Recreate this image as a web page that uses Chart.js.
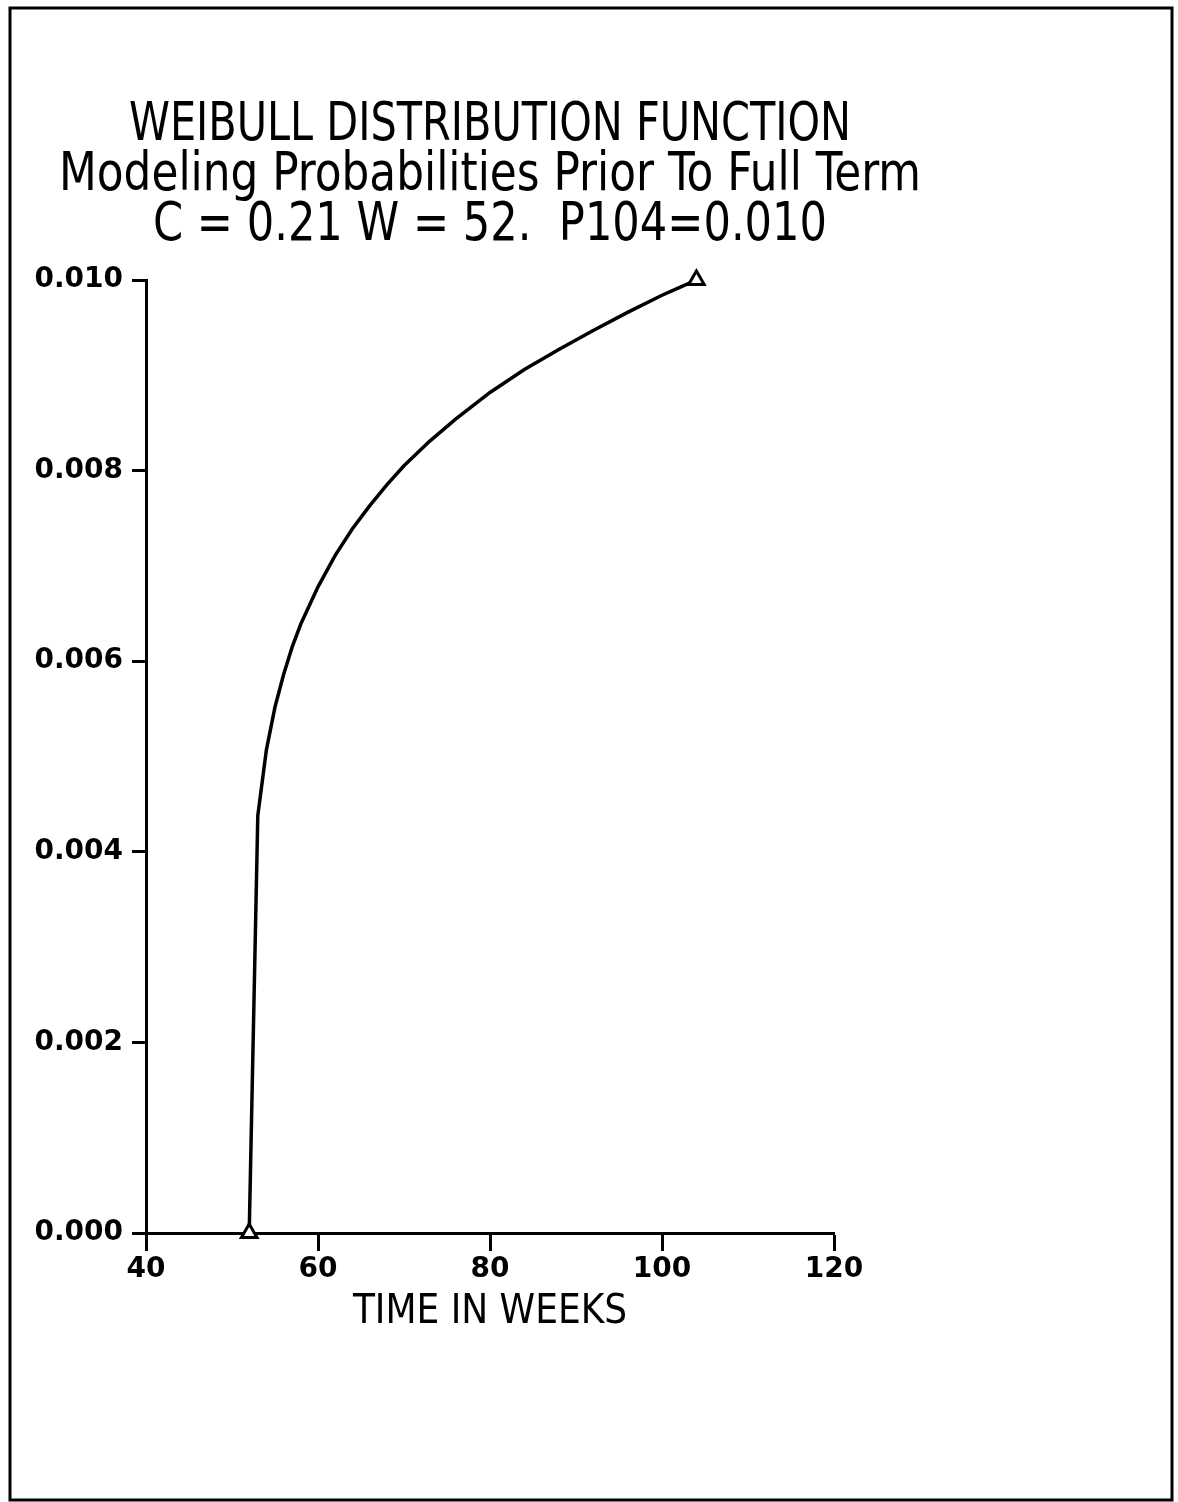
<!DOCTYPE html>
<html>
<head>
<meta charset="utf-8">
<script src="https://cdn.jsdelivr.net/npm/chart.js@4/dist/chart.umd.min.js"></script>
<style>
  html, body { margin: 0; padding: 0; background: #fff; }
  #wrap { width: 1178px; height: 1502px; position: relative; }
</style>
</head>
<body>
<div id="wrap"><canvas id="canvas"></canvas></div>
<script>
// weeks and probabilities
let weeks = [52, 53, 54, 55, 56, 57, 58, 60, 62, 64, 66, 68, 70, 73, 76,
             80, 84, 88, 92, 96, 100, 102, 104];
let probs = [0.00000, 0.00438, 0.00507, 0.00552, 0.00586, 0.00615, 0.00639,
             0.00678, 0.00711, 0.00739, 0.00763, 0.00785, 0.00805, 0.00831,
             0.00854, 0.00882, 0.00906, 0.00927, 0.00947, 0.00966, 0.00984,
             0.00992, 0.01000];

let titleLines = [
  'WEIBULL DISTRIBUTION FUNCTION',
  'Modeling Probabilities Prior To Full Term',
  'C = 0.21 W = 52.  P104=0.010'
];
let xTicks = [40, 60, 80, 100, 120];
let yTicks = [0, 0.002, 0.004, 0.006, 0.008, 0.010];

let points = [];
for (let i = 0; i < weeks.length; i++) {
  points.push({ x: weeks[i], y: probs[i] });
}

// only the first and last point get a triangle
let lastIndex = weeks.length - 1;

const fontFace = '"Liberation Sans Narrow", "DejaVu Sans Condensed", "Liberation Sans", sans-serif';

// border round the page plus the three title lines
let framePlugin = {
  id: 'frame',
  afterDraw(chart) {
    let ctx = chart.ctx;
    let area = chart.chartArea;
    let cx = (area.left + area.right) / 2;
    ctx.save();
    ctx.strokeStyle = '#000';
    ctx.lineWidth = 3;
    ctx.strokeRect(10, 8, 1162, 1492);

    ctx.fillStyle = '#000';
    ctx.textAlign = 'center';
    ctx.textBaseline = 'alphabetic';
    let baselines = [140, 190, 240];
    let widths = [722, 862, 674];
    for (let i = 0; i < titleLines.length; i++) {
      ctx.font = '54px ' + fontFace;
      ctx.fillText(titleLines[i], cx, baselines[i], widths[i]);
    }
    ctx.restore();
  }
};

let options = {
  type: 'scatter',
  data: {
    datasets: [{
      data: points,
      showLine: true,
      borderColor: '#000',
      borderWidth: 3.5,
      tension: 0,
      clip: false,
      pointStyle: 'triangle',
      pointRadius: function(c) {
        return (c.dataIndex === 0 || c.dataIndex === lastIndex) ? 9 : 0;
      },
      pointBackgroundColor: '#fff',
      pointBorderColor: '#000',
      pointBorderWidth: 3
    }]
  },
  options: {
    responsive: false,
    animation: false,
    layout: {
      padding: { left: 10, top: 280, right: 344, bottom: 165 }
    },
    plugins: {
      legend: { display: false },
      tooltip: { enabled: false }
    },
    scales: {
      x: {
        type: 'linear',
        min: 40,
        max: 120,
        afterBuildTicks: function(axis) {
          axis.ticks = xTicks.map(v => ({ value: v }));
        },
        afterFit: function(axis) { axis.height = 104; },
        grid: {
          drawOnChartArea: false,
          drawTicks: true,
          tickLength: 18,
          tickWidth: 3,
          tickColor: '#000'
        },
        border: { display: true, color: '#000', width: 3 },
        ticks: {
          color: '#000',
          padding: 2,
          maxRotation: 0,
          font: { family: 'DejaVu Sans', size: 28, weight: 'bold' }
        },
        title: {
          display: true,
          text: 'TIME IN WEEKS',
          color: '#000',
          padding: { top: 0, bottom: 0 },
          font: { family: fontFace, size: 40 }
        }
      },
      y: {
        type: 'linear',
        min: 0,
        max: 0.010,
        afterBuildTicks: function(axis) {
          axis.ticks = yTicks.map(v => ({ value: v }));
        },
        afterFit: function(axis) { axis.width = 136; },
        grid: {
          drawOnChartArea: false,
          drawTicks: true,
          tickLength: 14,
          tickWidth: 3,
          tickColor: '#000'
        },
        border: { display: true, color: '#000', width: 3 },
        ticks: {
          color: '#000',
          padding: 9,
          font: { family: 'DejaVu Sans', size: 28, weight: 'bold' },
          callback: function(v) { return v.toFixed(3); }
        }
      }
    }
  },
  plugins: [framePlugin]
};

let canvas = document.getElementById('canvas');
canvas.width = 1178;
canvas.height = 1502;
let chart = new Chart(canvas, options);
</script>
</body>
</html>
